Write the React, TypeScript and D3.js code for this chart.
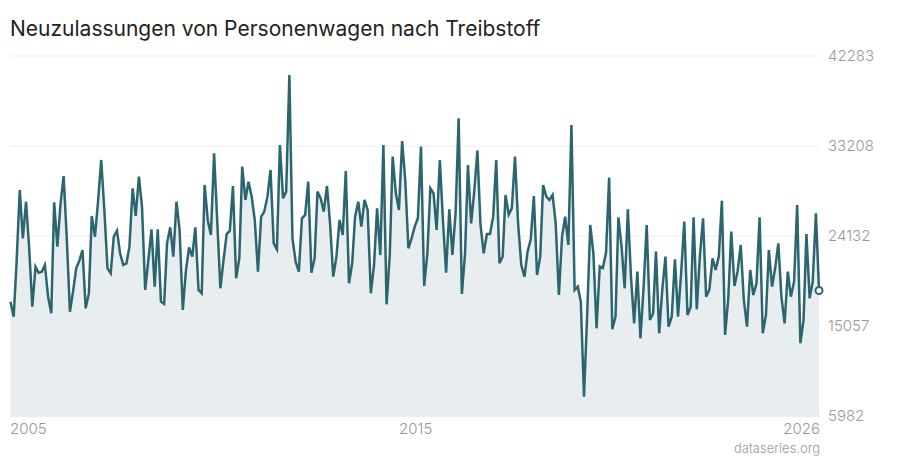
import React, { useEffect, useRef } from 'react';
import * as d3 from 'd3';

const TITLE = 'Neuzulassungen von Personenwagen nach Treibstoff';
const SOURCE = 'dataseries.org';
const START_YEAR = 2005;

// monthly values, Jan 2005 onwards
const values: number[] = [
  17508, 15995, 21500, 28772, 23900, 27590, 22958, 17000, 21040, 20430, 20530, 21210,
  18010, 16340, 27530, 23060, 27260, 30180, 24000, 16500, 18590, 20870, 21647, 22720,
  16840, 18350, 26150, 24060, 27596, 31800, 26800, 20874, 20370, 24067, 24672, 22387,
  21210, 21378, 23059, 28940, 26151, 30117, 27092, 18690, 21714, 24807, 19026, 24807,
  17513, 17277, 23395, 25008, 22050, 27596, 24740, 16673, 20706, 22992, 22050, 25008,
  18690, 18353, 29277, 25700, 24235, 32470, 25748, 18858, 21715, 24336, 24672, 29177,
  19866, 21883, 31126, 27765, 29614, 28101, 25748, 20538, 26084, 26588, 28101, 30790,
  23395, 22790, 33310, 27933, 28605, 40368, 23899, 21546, 20538, 25916, 26252, 29614,
  20437, 21883, 28605, 27933, 26588, 29176, 25412, 20034, 22051, 25748, 24235, 30688,
  19362, 21378, 26084, 27596, 25076, 27765, 26756, 18354, 21210, 26924, 22218, 33310,
  17244, 22218, 32134, 28437, 26756, 33700, 29800, 22891, 23899, 25076, 25916, 33142,
  19093, 22386, 28941, 28437, 24739, 31798, 25748, 20437, 26823, 22218, 26420, 35999,
  18286, 22386, 31294, 25412, 28605, 32739, 25244, 22386, 24336, 24336, 26084, 31798,
  21378, 22051, 28269, 26300, 26924, 32134, 25412, 21210, 20034, 22554, 23798, 28168,
  20202, 22051, 29277, 28101, 27764, 28269, 25412, 18186, 24067, 26084, 23227, 35327,
  18690, 19026, 17513, 7935, 16000, 25244, 22386, 14824, 21080, 20900, 22450, 30030,
  14723, 15999, 26016, 23059, 18858, 26823, 20034, 15328, 20538, 13816, 19026, 25244,
  15664, 16336, 22554, 14320, 18690, 22050, 14992, 15999, 21781, 15999, 20538, 25580,
  16168, 17008, 26016, 16739, 22050, 25916, 18017, 18690, 21881, 20706, 22050, 27696,
  14152, 17849, 24570, 19092, 20538, 23226, 17680, 14992, 20706, 18185, 19361, 26016,
  14320, 16168, 22722, 19025, 20874, 23394, 18017, 15328, 20538, 18017, 19529, 27259,
  13311, 15664, 24335, 17849, 19529, 26419, 18637,
];

const yTickValues = [5982, 15057, 24132, 33208, 42283];
const yTickLabels = ['5982', '15057', '24132', '33208', '42283'];

export default function App() {
  const ref = useRef<SVGSVGElement>(null);

  useEffect(() => {
    document.body.style.margin = '0';
    const svg = d3.select(ref.current);
    svg.selectAll('*').remove();

    const dates = values.map((_, i) => new Date(START_YEAR, i, 1));
    const data = values.map((v, i) => ({ d: dates[i], v }));

    const left = 10, right = 820, plotRight = 819;
    const x = d3.scaleTime().domain([dates[0], dates[dates.length - 1]]).range([10.5, plotRight]);
    const y = d3.scaleLinear().domain([yTickValues[0], yTickValues[yTickValues.length - 1]]).range([416, 56]);

    svg.append('text')
      .attr('x', 10).attr('y', 36)
      .attr('font-family', 'Inter, sans-serif')
      .attr('font-size', 21)
      .attr('fill', '#222')
      .text(TITLE);

    // grid
    svg.append('g').selectAll('line').data(yTickValues).join('line')
      .attr('x1', left).attr('x2', right)
      .attr('y1', (d) => y(d)).attr('y2', (d) => y(d))
      .attr('stroke', (d, i) => (i === 0 ? '#dcdcdc' : '#efefef'))
      .attr('stroke-width', 1);

    const area = d3.area<{ d: Date; v: number }>()
      .x((p) => x(p.d)).y0(y(yTickValues[0])).y1((p) => y(p.v));
    svg.append('path').datum(data).attr('d', area).attr('fill', '#e8eef0');

    const line = d3.line<{ d: Date; v: number }>().x((p) => x(p.d)).y((p) => y(p.v));
    svg.append('path').datum(data).attr('d', line)
      .attr('fill', 'none').attr('stroke', '#2b6670').attr('stroke-width', 2.5);

    const last = data[data.length - 1];
    svg.append('circle')
      .attr('cx', x(last.d)).attr('cy', y(last.v)).attr('r', 3.5)
      .attr('fill', '#fff').attr('stroke', '#2b6670').attr('stroke-width', 2);

    // y tick labels
    svg.append('g').selectAll('text').data(yTickValues).join('text')
      .attr('x', 828).attr('y', (d) => y(d))
      .attr('dy', '0.35em')
      .attr('font-family', 'Inter, sans-serif')
      .attr('font-weight', 300)
      .attr('font-size', 15)
      .attr('fill', '#999')
      .text((d, i) => yTickLabels[i]);

    // x tick labels: first, middle, last
    const mid = dates[Math.floor((dates.length - 1) / 2)];
    const xTicks = [
      { d: dates[0], anchor: 'start', dx: -0.5 },
      { d: mid, anchor: 'middle', dx: 1 },
      { d: dates[dates.length - 1], anchor: 'end', dx: 1 },
    ];
    svg.append('g').selectAll('text').data(xTicks).join('text')
      .attr('x', (t) => x(t.d) + t.dx).attr('y', 434)
      .attr('text-anchor', (t) => t.anchor)
      .attr('font-family', 'Inter, sans-serif')
      .attr('font-weight', 300)
      .attr('font-size', 15)
      .attr('fill', '#999')
      .text((t) => String(t.d.getFullYear()));

    svg.append('text')
      .attr('x', right).attr('y', 453)
      .attr('text-anchor', 'end')
      .attr('font-family', 'Inter, sans-serif')
      .attr('font-weight', 300)
      .attr('font-size', 13)
      .attr('fill', '#999')
      .text(SOURCE);
  }, []);

  return <svg ref={ref} width={900} height={460} style={{ display: 'block' }} />;
}
